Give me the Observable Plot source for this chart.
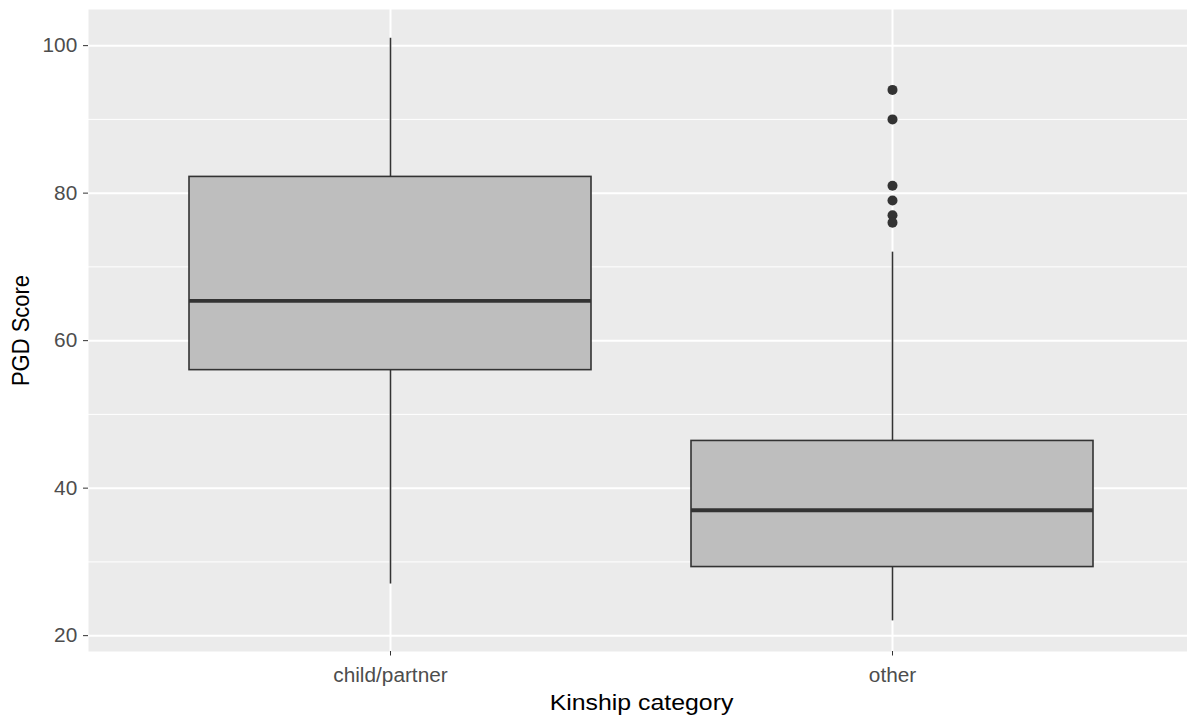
<!DOCTYPE html>
<html>
<head>
<meta charset="utf-8">
<script src="https://cdn.jsdelivr.net/npm/d3@7"></script>
<script src="https://cdn.jsdelivr.net/npm/@observablehq/plot@0.6"></script>
<style>
  html, body { margin: 0; padding: 0; background: #ffffff; overflow: hidden; }
  #chart svg { display: block; }
</style>
</head>
<body>
<div id="chart"></div>
<script>
// PGD score by kinship category: box-and-whisker summaries
const categories    = ["child/partner", "other"];
const whiskerLow    = [27, 22];
const lowerQuartile = [56, 29.3];
const medianScore   = [65.4, 37];
const upperQuartile = [82.2, 46.4];
const whiskerHigh   = [101, 72];

// Points beyond 1.5 × IQR
const outlierCategory = ["other", "other", "other", "other", "other", "other"];
const outlierScore    = [94, 90, 81, 79, 77, 76];

const majorTicks = [20, 40, 60, 80, 100];
const minorTicks = [30, 50, 70, 90];

const xTitle = "Kinship category";
const yTitle = "PGD Score";

const boxes = categories.map((category, i) => ({
  category,
  low: whiskerLow[i],
  q1: lowerQuartile[i],
  median: medianScore[i],
  q3: upperQuartile[i],
  high: whiskerHigh[i]
}));
const outliers = outlierScore.map((score, i) => ({category: outlierCategory[i], score}));

const chart = Plot.plot({
  width: 1194,
  height: 718,
  marginTop: 9,
  marginBottom: 67,
  marginLeft: 88,
  marginRight: 0,
  style: {fontFamily: "'Liberation Sans', Arial, sans-serif", background: "#ffffff", maxWidth: "none"},
  x: {type: "band", domain: categories, paddingInner: 0.2, paddingOuter: 0.2, align: 0.5, label: null},
  y: {domain: [17.85, 104.9], label: null},
  marks: [
    Plot.frame({fill: "#EBEBEB", stroke: "none"}),
    Plot.ruleY(minorTicks, {stroke: "#ffffff", strokeWidth: 1}),
    Plot.ruleY(majorTicks, {stroke: "#ffffff", strokeWidth: 2}),
    Plot.ruleX(categories, {x: d => d, stroke: "#ffffff", strokeWidth: 2}),
    // whiskers
    Plot.ruleX(boxes, {x: "category", y1: "low", y2: "q1", stroke: "#333333", strokeWidth: 1.6}),
    Plot.ruleX(boxes, {x: "category", y1: "q3", y2: "high", stroke: "#333333", strokeWidth: 1.6}),
    // interquartile boxes
    Plot.barY(boxes, {x: "category", y1: "q1", y2: "q3", fill: "#BEBEBE", stroke: "#333333", strokeWidth: 1.6}),
    // medians
    Plot.tickY(boxes, {x: "category", y: "median", stroke: "#333333", strokeWidth: 3.8}),
    // outliers
    Plot.dot(outliers, {x: "category", y: "score", r: 5, fill: "#333333", stroke: "none"}),
    // axes
    Plot.axisY({ticks: majorTicks, tickSize: 5, tickPadding: 6.3, fontSize: 20, fill: "#4D4D4D", stroke: "#333333", label: null}),
    Plot.axisX({tickSize: 4.5, tickPadding: 12, fontSize: 20, fill: "#4D4D4D", stroke: "#333333", label: null}),
    // axis titles
    Plot.text([xTitle], {frameAnchor: "bottom", dy: 58, fontSize: 22, fill: "#000000", text: d => d}),
    Plot.text([yTitle], {frameAnchor: "left", textAnchor: "middle", dx: -67, rotate: -90, fontSize: 22, fill: "#000000", text: d => d})
  ]
});

// The type is set slightly wide: stretch every label horizontally about its anchor
d3.select(chart).selectAll("text").each(function () {
  const t = this.getAttribute("transform");
  if (t == null) return;
  const s = this.textContent;
  let k;
  if (s === yTitle) k = " scale(1,1.1)";
  else if (s === xTitle) k = " scale(1.13,1)";
  else k = " scale(1.04,1)";
  this.setAttribute("transform", t + k);
});

document.getElementById("chart").appendChild(chart);
</script>
</body>
</html>
